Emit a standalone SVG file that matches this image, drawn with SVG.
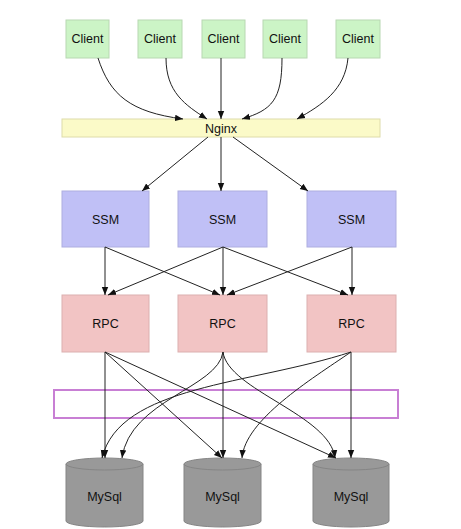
<svg xmlns="http://www.w3.org/2000/svg" width="461" height="529" viewBox="0 0 461 529">
<defs>
<style>
text{font-family:"Liberation Sans",Arial,sans-serif;font-size:12.5px;fill:#111;text-anchor:middle;dominant-baseline:central}
.client{fill:#ccf4c6;stroke:#b8d8b2;stroke-width:1}
.nginx{fill:#fbfac8;stroke:#dedcaa;stroke-width:1}
.ssm{fill:#c0c0f6;stroke:#aeaee0;stroke-width:1}
.rpc{fill:#f2c4c4;stroke:#dcb0b0;stroke-width:1}
.db{fill:#999;stroke:#858585;stroke-width:1}
.e{fill:none;stroke:#222;stroke-width:1;marker-end:url(#arr)}
.band{fill:none;stroke:#c87fd4;stroke-width:2}
</style>
<marker id="arr" viewBox="0 0 10 10" refX="10" refY="5" markerWidth="8" markerHeight="8" orient="auto" markerUnits="userSpaceOnUse">
<path d="M0,1 L10,5 L0,9 z" fill="#111"/>
</marker>
</defs>
<rect width="461" height="529" fill="#fff"/>

<g id="client1"><rect class="client" x="66" y="20" width="43" height="38"/><text x="87.5" y="39">Client</text></g>
<g id="client2"><rect class="client" x="138" y="20" width="44" height="38"/><text x="160" y="39">Client</text></g>
<g id="client3"><rect class="client" x="202" y="20" width="43" height="38"/><text x="223.5" y="39">Client</text></g>
<g id="client4"><rect class="client" x="263" y="20" width="44" height="38"/><text x="285" y="39">Client</text></g>
<g id="client5"><rect class="client" x="336" y="20" width="44" height="38"/><text x="358" y="39">Client</text></g>

<g id="nginx"><rect class="nginx" x="62" y="119" width="318" height="18"/><text x="221" y="128.5">Nginx</text></g>

<g id="ssm1"><rect class="ssm" x="62" y="191" width="87" height="56"/><text x="105.5" y="219.5">SSM</text></g>
<g id="ssm2"><rect class="ssm" x="178" y="191" width="89" height="56"/><text x="222.5" y="219.5">SSM</text></g>
<g id="ssm3"><rect class="ssm" x="307" y="191" width="89" height="56"/><text x="351.5" y="219.5">SSM</text></g>

<g id="rpc1"><rect class="rpc" x="62" y="295" width="87" height="57"/><text x="105.5" y="324">RPC</text></g>
<g id="rpc2"><rect class="rpc" x="178" y="295" width="89" height="57"/><text x="222.5" y="324">RPC</text></g>
<g id="rpc3"><rect class="rpc" x="307" y="295" width="89" height="57"/><text x="351.5" y="324">RPC</text></g>

<g id="band"><rect class="band" x="54" y="390" width="344" height="28"/></g>

<g id="mysql1"><path class="db" d="M66,464 A38.5,6 0 0 1 143,464 L143,521 A38.5,6 0 0 1 66,521 Z"/><path class="db" d="M66,464 A38.5,6 0 0 0 143,464" fill="none"/><text x="104.5" y="497">MySql</text></g>
<g id="mysql2"><path class="db" d="M184,464 A38.5,6 0 0 1 261,464 L261,521 A38.5,6 0 0 1 184,521 Z"/><path class="db" d="M184,464 A38.5,6 0 0 0 261,464" fill="none"/><text x="222.5" y="497">MySql</text></g>
<g id="mysql3"><path class="db" d="M313,464 A38,6 0 0 1 389,464 L389,521 A38,6 0 0 1 313,521 Z"/><path class="db" d="M313,464 A38,6 0 0 0 389,464" fill="none"/><text x="351" y="497">MySql</text></g>

<g id="connectors">
<path class="e" d="M98,58 C110,95 130,112 183,119"/>
<path class="e" d="M166,58 C166,92 185,105 207,119"/>
<path class="e" d="M221,58 L221,119"/>
<path class="e" d="M282,58 C282,100 272,110 242,119"/>
<path class="e" d="M348,58 C345,90 322,105 297,119"/>

<path class="e" d="M208,137 L142,191"/>
<path class="e" d="M221,137 L221,191"/>
<path class="e" d="M233,137 L308,191"/>

<path class="e" d="M105,247 L105,295"/>
<path class="e" d="M105,247 L220,295"/>
<path class="e" d="M223,247 L108,295"/>
<path class="e" d="M223,247 L223,295"/>
<path class="e" d="M223,247 L348,295"/>
<path class="e" d="M352,247 L227,295"/>
<path class="e" d="M352,247 L352,295"/>

<path class="e" d="M105,352 L105,458"/>
<path class="e" d="M105,352 L222,458"/>
<path class="e" d="M105,352 L336,458"/>
<path class="e" d="M223,352 C218,388 130,400 122,458"/>
<path class="e" d="M223,352 L223,458"/>
<path class="e" d="M223,352 C228,390 330,415 335,458"/>
<path class="e" d="M351,352 C250,385 120,385 102,458"/>
<path class="e" d="M351,352 C310,380 245,420 242,458"/>
<path class="e" d="M351,352 L351,458"/>
</g>
</svg>
